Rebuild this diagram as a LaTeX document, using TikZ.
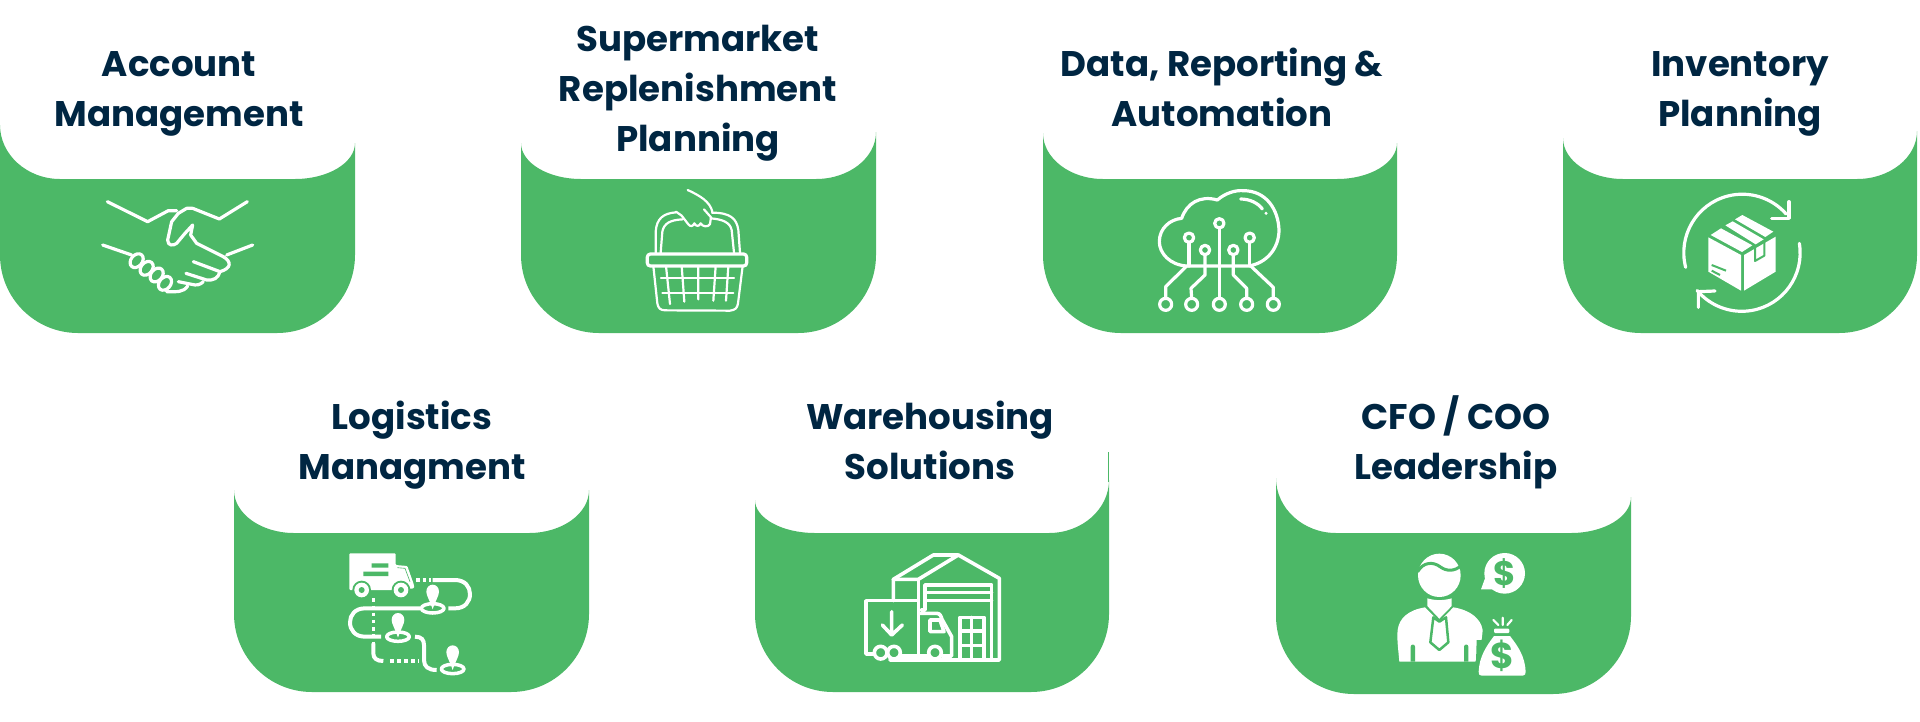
\documentclass[tikz,border=0pt]{standalone}
\usepackage{fontspec}
\setmainfont{Poppins}
\usetikzlibrary{calc}
\definecolor{cardgreen}{HTML}{4CB867}
\definecolor{titleink}{HTML}{002642}
\tikzset{
  cardfill/.style={fill=cardgreen,draw=none},
  cardtitle/.style={anchor=base,align=center,text=titleink,inner sep=0pt,font=\bfseries\fontsize{35.6}{50}\selectfont},
  ln/.style={draw=white,line width=3.2pt,line cap=round,line join=round,fill=none},
  thin ln/.style={draw=white,line width=2.2pt,line cap=round,line join=round,fill=none},
  wfill/.style={fill=white,draw=none},
  gln/.style={draw=cardgreen,line cap=butt,line join=round,fill=none},
  icon/.style={shift={#1},scale=0.33333},
  moneysign/.style={text=cardgreen,inner sep=0pt,font=\bfseries\fontsize{#1}{#1}\selectfont}
}
\newcommand{\cardshape}[6]{%
  \fill[cardfill] (#1,#5) -- ({#1},{#3-78}) arc[start angle=180,end angle=90,radius=78]
    -- ({#2-78},#3) arc[start angle=90,end angle=0,radius=78]
    -- (#2,#6) .. controls ({#2},{#6+0.55*(#4-#6)}) and ({#2-27},#4) .. ({#2-60},#4)
    -- ({#1+60},#4) .. controls ({#1+27},#4) and ({#1},{#5+0.55*(#4-#5)}) .. (#1,#5) -- cycle;}
\begin{document}
\begin{tikzpicture}[x=1pt,y=1pt,yscale=-1]
\useasboundingbox (0,0) rectangle (1920,721);
\cardshape{0}{355}{333}{179}{125}{143}
\cardshape{521}{876}{333}{179}{143}{132}
\cardshape{1043}{1397}{333}{179}{133}{143}
\cardshape{1563}{1917}{333}{179}{138}{131}
\cardshape{234}{589}{692}{533}{490}{490}
\cardshape{755}{1109}{692}{533}{500}{480}
\fill[cardfill] (1108,452) rectangle (1109,482);
\cardshape{1276}{1631}{694}{533}{478}{497}

\node[cardtitle] (t1) at (179,126) {Account\\Management};
\node[cardtitle] (t2) at (698,151) {Supermarket\\Replenishment\\Planning};
\node[cardtitle] (t3) at (1222,126) {Data, Reporting \&\\Automation};
\node[cardtitle] (t4) at (1740,126) {Inventory\\Planning};
\node[cardtitle] (t5) at (412,479) {Logistics\\Managment};
\node[cardtitle] (t6) at (930,479) {Warehousing\\Solutions};
\node[cardtitle] (t7) at (1456,479) {CFO / COO\\Leadership};

% handshake
\begin{scope}[icon={(0,0)}]
\draw[ln] (322,605)--(443,665)--(505,632)--(530,632);
\draw[ln] (742,605)--(658,657)--(578,625)--(560,625)--(535,640)--(515,665)--(503,720) .. controls (503,738) and (520,738) .. (530,730)--(555,700)--(578,675)--(572,705)--(590,730)--(670,770);
\draw[ln] (680,765)--(758,735);
\draw[ln] (308,735)--(395,765);
\foreach \px/\py in {410/782,440/805,470/825,495/850}
  \draw[ln] (\px,\py) ellipse[x radius=23,y radius=17,rotate=-50];
\draw[ln] (670,770) .. controls (695,785) and (695,805) .. (660,815)--(580,785);
\draw[ln] (660,815) .. controls (655,835) and (640,842) .. (620,840)--(558,820);
\draw[ln] (610,845) .. controls (600,855) and (590,857) .. (575,853)--(535,845);
\draw[ln] (563,858) .. controls (550,878) and (530,875) .. (500,875);
\end{scope}

% basket
\begin{scope}[icon={(500,160)}]
\draw[ln,rounded corners=3pt] (442,282) rectangle (740,318);
\draw[thin ln] (467,280)--(467,215) .. controls (470,175) and (490,160) .. (528,157);
\draw[thin ln] (482,278)--(487,215) .. controls (492,190) and (510,180) .. (548,178);
\draw[thin ln] (720,278)--(715,210) .. controls (710,175) and (690,158) .. (636,158);
\draw[thin ln] (702,278)--(695,210) .. controls (690,188) and (670,178) .. (632,175);
\draw[thin ln] (528,155)--(545,167)--(565,193) .. controls (572,202) and (580,198) .. (583,190) .. controls (588,200) and (598,200) .. (602,190) .. controls (606,200) and (625,203) .. (630,192)--(633,172)--(612,148);
\draw[thin ln] (563,90) .. controls (600,107) and (630,125) .. (637,155);
\draw[thin ln] (460,318)--(472,430) .. controls (475,445) and (480,450) .. (495,451)--(690,452) .. controls (705,450) and (712,445) .. (714,430)--(728,318);
\draw[thin ln] (498,318)--(510,432) (545,318)--(553,425) (595,318)--(595,418) (647,318)--(640,422) (685,318)--(678,422);
\draw[thin ln] (483,355)--(702,355) (487,398)--(700,398);
\end{scope}

% cloud
\begin{scope}[icon={(1030,160)}]
\draw[ln] (655,318)--(470,318) .. controls (420,315) and (388,280) .. (388,245) .. controls (388,205) and (420,178) .. (455,175) .. controls (470,130) and (510,105) .. (562,120) .. controls (585,100) and (615,90) .. (640,92) .. controls (710,92) and (745,150) .. (747,210) .. controls (747,265) and (710,310) .. (655,318);
\draw[ln] (632,117) .. controls (660,117) and (685,130) .. (697,147);
\fill[wfill] (708,160) circle (5);
\draw[ln] (568,205)--(568,415);
\draw[ln] (477,248)--(477,318);
\draw[ln] (525,285)--(525,345)--(483,385)--(485,415);
\draw[ln] (610,285)--(610,345)--(650,385)--(650,415);
\draw[ln] (659,248)--(659,318);
\draw[ln] (470,318)--(407,380)--(407,415);
\draw[ln] (659,315)--(730,382)--(730,415);
\foreach \px/\py in {568/190,477/233,525/270,610/270,659/233}
  \draw[ln] (\px,\py) circle (14);
\foreach \px in {407,485,568,650,730}
  \draw[ln] (\px,433) circle (18);
\end{scope}

% inventory
\begin{scope}[icon={(1540,160)}]
\draw[ln] (437,322) arc[start angle=165.5,end angle=318.6,radius=175.5];
\draw[ln] (747,125)--(747,175)--(695,175);
\draw[ln] (778,250) arc[start angle=-9.5,end angle=140,radius=175];
\draw[ln] (475,442)--(475,395)--(525,393);
\fill[wfill] (512,225)--(543,205)--(637,256)--(606,276)--cycle;
\fill[wfill] (556,196)--(578,184)--(671,238)--(647,253)--cycle;
\fill[wfill] (585,178)--(607,165)--(700,215)--(676,231)--cycle;
\fill[wfill] (505,232)--(603,285)--(603,392)--(505,335)--cycle;
\fill[wfill] (612,285)--(707,230)--(707,335)--(612,392)--cycle;
\draw[gln,line width=2pt] (515,315)--(558,332) (515,332)--(540,345);
\draw[gln,line width=2pt] (645,262)--(645,303)--(673,287)--(673,245);
\end{scope}

% logistics
\begin{scope}[icon={(310,530)}]
\fill[wfill,rounded corners=1pt] (118,70)--(257,70)--(257,105)--(292,108)--(312,165)--(312,175)--(257,180)--(118,180)--cycle;
\fill[cardgreen] (185,100) rectangle (235,113) (160,125) rectangle (235,138);
\draw[gln,line width=0.6pt] (262,113)--(285,115)--(300,155);
\foreach \px in {155,273}{
  \fill[cardgreen] (\px,180) circle (28);
  \fill[wfill] (\px,180) circle (22);
  \fill[cardgreen] (\px,180) circle (9);}
\draw[white,line width=3.5pt,dash pattern=on 3.5pt off 3pt] (318,150)--(362,150);
\draw[ln,line width=4pt,line cap=butt] (368,150)--(435,150) .. controls (465,150) and (480,170) .. (480,192) .. controls (480,215) and (465,235) .. (435,235)--(415,235);
\draw[ln,line width=4pt,line cap=butt] (330,235)--(165,235) .. controls (135,235) and (120,255) .. (120,277) .. controls (120,300) and (135,320) .. (165,320)--(213,320);
\draw[ln,line width=4pt,line cap=butt] (315,320) .. controls (335,320) and (342,330) .. (342,345)--(342,390) .. controls (342,410) and (355,420) .. (380,420);
\draw[white,line width=3.5pt,dash pattern=on 3.5pt off 3.7pt] (190,205)--(190,355);
\draw[ln,line width=4pt,line cap=butt] (190,340)--(190,370) .. controls (190,385) and (200,393) .. (220,393);
\draw[white,line width=3.5pt,dash pattern=on 3.5pt off 3.5pt] (240,393)--(328,393);
\foreach \px/\py in {368/235,264/320,428/417}{
  \draw[ln,line width=3.5pt] (\px,\py) ellipse[x radius=34,y radius=14];
  \fill[wfill] (\px,\py+3) .. controls (\px-8,\py-22) and (\px-19,\py-38) .. (\px-19,\py-50) .. controls (\px-19,\py-63) and (\px-10,\py-71) .. (\px,\py-71) .. controls (\px+10,\py-71) and (\px+19,\py-63) .. (\px+19,\py-50) .. controls (\px+19,\py-38) and (\px+8,\py-22) .. (\px,\py+3) -- cycle;}
\end{scope}

% warehouse
\begin{scope}[icon={(840,530)}]
\begin{scope}[ln,line width=3.6pt]
\draw (160,212)--(160,148)--(280,75)--(355,75)--(478,145)--(478,390)--(150,390);
\draw (355,75)--(235,148)--(160,148);
\draw (235,148)--(235,385);
\draw (245,240)--(255,240)--(255,165)--(455,165)--(455,385);
\draw (255,188)--(455,188) (255,212)--(455,212);
\draw (100,372)--(78,372)--(78,212)--(235,212);
\draw (240,250)--(290,250) .. controls (300,250) and (303,258) .. (306,268)--(335,320)--(335,378)--(305,378);
\draw (270,270)--(300,270)--(312,305)--(270,305)--cycle;
\draw (155,245)--(155,312) (127,285)--(155,315)--(187,285);
\foreach \px in {122,162,285} \draw (\px,368) circle (19);
\draw (182,378)--(265,378);
\draw (360,385)--(360,262)--(432,262)--(432,385) (395,262)--(395,385) (360,303)--(432,303) (360,347)--(432,347);
\end{scope}
\end{scope}

% leadership
\begin{scope}[icon={(1370,530)}]
\fill[wfill] (208,136) ellipse[x radius=64,y radius=65];
\draw[gln,line width=3pt] (143,125) .. controls (160,95) and (190,95) .. (210,110) .. controls (230,125) and (255,125) .. (275,105);
\fill[wfill] (172,205) .. controls (195,212) and (220,212) .. (245,205)--(245,228)--(208,266)--(172,228)--cycle;
\fill[wfill] (88,395) .. controls (85,360) and (80,325) .. (83,300) .. controls (87,265) and (115,240) .. (165,232)--(208,275)--(250,232) .. controls (300,240) and (332,265) .. (338,300) .. controls (335,340) and (330,350) .. (316,395)--cycle;
\fill[cardgreen] (122,395)--(122,350) arc[start angle=180,end angle=360,radius=6.5]--(135,395)--cycle;
\fill[cardgreen] (282,395)--(282,350) arc[start angle=180,end angle=360,radius=6.5]--(295,395)--cycle;
\draw[gln,line width=2.5pt,fill=white] (190,262)--(208,275)--(228,262)--(235,337)--(208,360)--(181,337)--cycle;
\fill[wfill] (404,130) circle (61);
\fill[wfill] (345,145)--(333,178)--(380,178)--cycle;
\node[moneysign=34] (d1) at (404,132) {\$};
\fill[cardgreen] (320,330) -- (345,330) -- (372,318) -- (340,395) -- (318,395) -- cycle;
\fill[wfill] (372,318)--(420,318) .. controls (445,350) and (465,380) .. (467,425) .. controls (467,432) and (465,437) .. (458,437)--(335,437) .. controls (328,437) and (325,432) .. (326,425) .. controls (328,380) and (348,350) .. (372,318)--cycle;
\fill[wfill,rounded corners=1pt] (372,296) rectangle (418,309);
\draw[thin ln] (398,263)--(398,285) (370,270)--(385,285) (425,270)--(412,285);
\node[moneysign=36] (d2) at (396,377) {\$};
\end{scope}
\end{tikzpicture}
\end{document}
